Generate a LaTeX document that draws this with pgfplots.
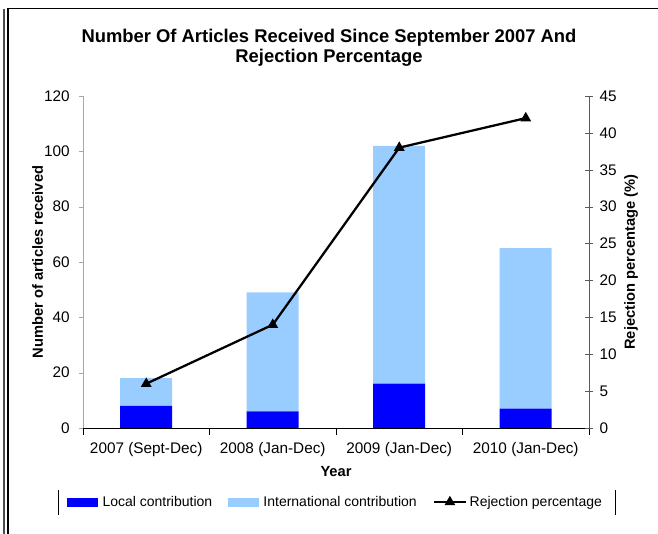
\documentclass[border=0pt]{standalone}
\usepackage{pgfplots}
\pgfplotsset{compat=1.18}
\usepackage{fontspec}
\setmainfont{Liberation Sans}
\definecolor{localc}{RGB}{0,0,255}
\definecolor{intc}{RGB}{153,204,255}
\begin{document}
\begin{tikzpicture}[font=\fontsize{11.5}{13}\selectfont]
\useasboundingbox (-62.25pt,-79.5pt) rectangle (431.25pt,321pt);
\begin{axis}[
  scale only axis, width=379.5pt, height=249pt,
  at={(0,0)}, anchor=south west,
  xmin=-0.5, xmax=3.5, ymin=0, ymax=120,
  ytick={0,20,...,120},
  axis x line*=bottom, axis y line*=left,
  x axis line style={black,-}, y axis line style={gray!70,-},
  xtick={0,1,2,3},
  xticklabels={2007 (Sept-Dec),2008 (Jan-Dec),2009 (Jan-Dec),2010 (Jan-Dec)},
  major x tick style={draw=none},
  minor xtick={-0.5,0.5,1.5,2.5,3.5},
  minor x tick style={black},
  minor tick length=5pt,
  major tick length=3pt,
  y tick style={gray!70},
  tick align=outside,
  tick label style={font=\fontsize{11.5}{13}\selectfont},
  xticklabel style={yshift=-4pt},
  yticklabel style={xshift=-3.5pt},
  /pgf/number format/assume math mode=true,
  ybar stacked, bar width=39pt,
  xlabel={\textbf{Year}},
  xlabel style={at={(axis description cs:0.5,0)}, anchor=center, yshift=-33pt, font=\fontsize{11}{13}\selectfont},
  ylabel={\textbf{Number of articles received}},
  ylabel style={at={(axis description cs:-0.0896,0.5)}, anchor=center, font=\fontsize{11}{13}\selectfont},
]
\addplot[fill=localc, draw=none] coordinates {(0,8) (1,6) (2,16) (3,7)};
\addplot[fill=intc, draw=none] coordinates {(0,10) (1,43) (2,86) (3,58)};
\end{axis}
\begin{axis}[
  scale only axis, width=379.5pt, height=249pt,
  at={(0,0)}, anchor=south west,
  xmin=-0.5, xmax=3.5, ymin=0, ymax=45,
  ytick={0,5,...,45},
  axis y line*=right, axis x line=none,
  y axis line style={black!65,-},
  y tick style={black!65},
  tick align=center, major tick length=6pt,
  tick label style={font=\fontsize{11.5}{13}\selectfont},
  yticklabel style={xshift=1.5pt},
  /pgf/number format/assume math mode=true,
  ylabel={\textbf{Rejection percentage (\%)}},
  ylabel style={at={(axis description cs:1.083,0.5)}, anchor=center, font=\fontsize{11}{13}\selectfont},
  legend columns=3,
  legend style={at={(axis description cs:0.5,-0.223)}, anchor=center, draw=none, fill=none,
    font=\fontsize{10.5}{12}\selectfont,
    /tikz/every even column/.append style={column sep=10pt}},
  legend cell align=left,
]
\addlegendimage{legend image code/.code={\fill[localc] (0pt,-3pt) rectangle (22pt,3pt); \path (24pt,0pt);}}
\addlegendentry{Local contribution}
\addlegendimage{legend image code/.code={\fill[intc] (0pt,-3pt) rectangle (22pt,3pt); \path (24pt,0pt);}}
\addlegendentry{International contribution}
\addplot[black, line width=1.7pt, mark=triangle*, mark size=3pt,
  legend image code/.code={\draw[black, line width=1.7pt] (0pt,0pt) -- (24pt,0pt); \fill[black] (12pt,0pt) +(90:3pt) -- +(210:3pt) -- +(330:3pt) -- cycle;}]
  coordinates {(0,6) (1,14) (2,38) (3,42)};
\addlegendentry{Rejection percentage}
\end{axis}
\draw[black, line width=0.6pt] (-18.75pt,-46.5pt) -- (-18.75pt,-65.25pt);
\draw[black, line width=0.6pt] (399pt,-46.5pt) -- (399pt,-65.25pt);
\draw[black!70, line width=1.5pt] (-58.9pt,-90pt) -- (-58.9pt,314.6pt);
\draw[black, line width=1.2pt] (-56.25pt,-90pt) -- (-56.25pt,314.6pt) -- (440pt,314.6pt);
\node[font=\bfseries\fontsize{13.8}{15}\selectfont, align=center] at (184.5pt,285pt)
  {Number Of Articles Received Since September 2007 And\\Rejection Percentage};
\end{tikzpicture}
\end{document}
